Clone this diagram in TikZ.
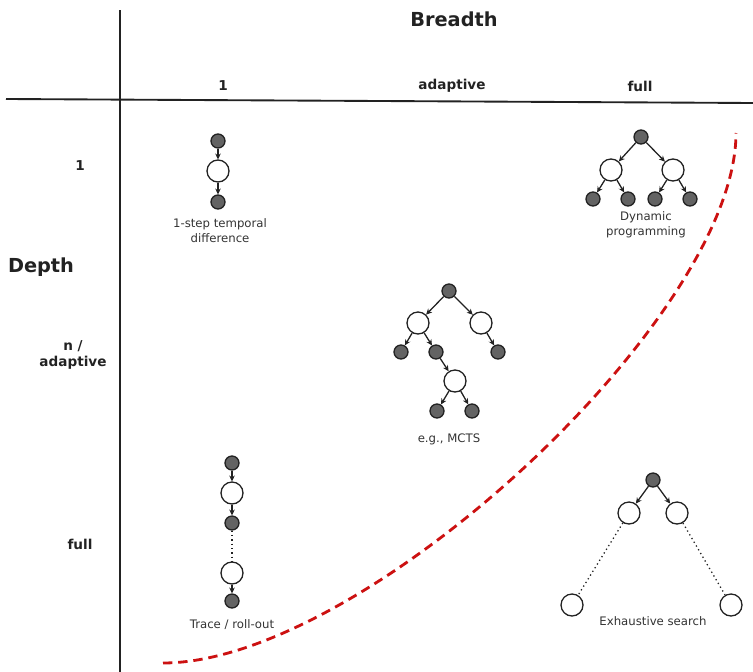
\documentclass[tikz,border=0pt]{standalone}
\usepackage{fontspec}
\setmainfont{DejaVu Sans}
\usetikzlibrary{arrows.meta,positioning}
\definecolor{nodegray}{HTML}{636363}
\definecolor{inkgray}{HTML}{222222}
\definecolor{frontred}{HTML}{CC1111}

\begin{document}
\begin{tikzpicture}[x=0.03cm,y=-0.03cm]
		\tikzset{
			sample/.style={circle, fill=nodegray, draw=inkgray, line width=1.1pt, minimum size=0.42cm, inner sep=0pt},
			state/.style={circle, fill=white, draw=inkgray, line width=1.1pt, minimum size=0.66cm, inner sep=0pt},
			branch/.style={-{Stealth[length=5pt,width=4.8pt]}, line width=1.1pt, draw=inkgray},
			rollout/.style={line width=1.1pt, draw=inkgray, dash pattern=on 1.1pt off 2.6pt},
			caption/.style={font=\fontsize{10}{12.8}\selectfont, text=black!80, align=center},
			axislbl/.style={font=\bfseries\fontsize{11.6}{13.7}\selectfont, text=inkgray, align=center},
			title/.style={font=\bfseries\fontsize{16.5}{19}\selectfont, text=inkgray},
			frontier/.style={draw=frontred, line width=2.4pt, dash pattern=on 8pt off 5pt}
		}
		\useasboundingbox (0,0) rectangle (753,672);

		% AXES
		\draw[line width=1.6pt, inkgray] (120,10) -- (120,672);
		\draw[line width=1.6pt, inkgray] (6,99) -- (753,103);
		\node[title] (breadth) at (454,19) {Breadth};
		\node[title] (depth) at (41,267) {Depth};

		% Column labels (breadth)
		\node[axislbl] (bone) at (223,86) {1};
		\node[axislbl] (badapt) at (452,86) {adaptive};
		\node[axislbl] (bfull) at (640,86) {full};

		% Row labels (depth)
		\node[axislbl] (done) at (80,166) {1};
		\node[axislbl] (dadapt) at (73,355) {n /\\adaptive};
		\node[axislbl] (dfull) at (80,544) {full};

		% TOP LEFT: 1-step temporal difference
		\node[sample] (td0) at (218,141) {};
		\node[state] (td1) at (218,171) {};
		\node[sample] (td2) at (218,202) {};
		\draw[branch] (td0) -- (td1);
		\draw[branch] (td1) -- (td2);
		\node[caption] (tdlbl) at (220,231) {1-step temporal\\difference};

		% TOP RIGHT: dynamic programming
		\node[sample] (dp0) at (641,137) {};
		\node[state] (dp1) at (611,170) {};
		\node[state] (dp2) at (673,170) {};
		\node[sample] (dp11) at (593,199) {};
		\node[sample] (dp12) at (628,199) {};
		\node[sample] (dp21) at (655,199) {};
		\node[sample] (dp22) at (690,199) {};
		\draw[branch] (dp0) -- (dp1);
		\draw[branch] (dp0) -- (dp2);
		\draw[branch] (dp1) -- (dp11);
		\draw[branch] (dp1) -- (dp12);
		\draw[branch] (dp2) -- (dp21);
		\draw[branch] (dp2) -- (dp22);
		\node[caption] (dplbl) at (646,225) {Dynamic\\programming};

		% MIDDLE: MCTS
		\node[sample] (mc0) at (449,291) {};
		\node[state] (mc1) at (418,323) {};
		\node[state] (mc2) at (481,323) {};
		\node[sample] (mc11) at (401,352) {};
		\node[sample] (mc12) at (436,352) {};
		\node[sample] (mc21) at (498,352) {};
		\node[state] (mc3) at (455,381) {};
		\node[sample] (mc31) at (437,411) {};
		\node[sample] (mc32) at (472,411) {};
		\draw[branch] (mc0) -- (mc1);
		\draw[branch] (mc0) -- (mc2);
		\draw[branch] (mc1) -- (mc11);
		\draw[branch] (mc1) -- (mc12);
		\draw[branch] (mc2) -- (mc21);
		\draw[branch] (mc12) -- (mc3);
		\draw[branch] (mc3) -- (mc31);
		\draw[branch] (mc3) -- (mc32);
		\node[caption] (mclbl) at (449,439) {e.g., MCTS};

		% BOTTOM LEFT: trace / roll-out
		\node[sample] (tr0) at (232,463) {};
		\node[state] (tr1) at (232,493) {};
		\node[sample] (tr2) at (232,523) {};
		\node[state] (tr3) at (232,573) {};
		\node[sample] (tr4) at (232,601) {};
		\draw[branch] (tr0) -- (tr1);
		\draw[branch] (tr1) -- (tr2);
		\draw[rollout] (tr2) -- (tr3);
		\draw[branch] (tr3) -- (tr4);
		\node[caption] (trlbl) at (232,625) {Trace / roll-out};

		% BOTTOM RIGHT: exhaustive search
		\node[sample] (ex0) at (653,480) {};
		\node[state] (ex1) at (629,513) {};
		\node[state] (ex2) at (677,513) {};
		\node[state] (ex3) at (572,605) {};
		\node[state] (ex4) at (731,605) {};
		\draw[branch] (ex0) -- (ex1);
		\draw[branch] (ex0) -- (ex2);
		\draw[rollout] (ex1) -- (ex3);
		\draw[rollout] (ex2) -- (ex4);
		\node[caption] (exlbl) at (653,621) {Exhaustive search};

		% Frontier curve
		\coordinate (fstart) at (163,663);
		\coordinate (fend) at (736,133);
		\draw[frontier] (fstart) .. controls (363,663) and (736,318) .. (fend);

	\end{tikzpicture}
\end{document}
